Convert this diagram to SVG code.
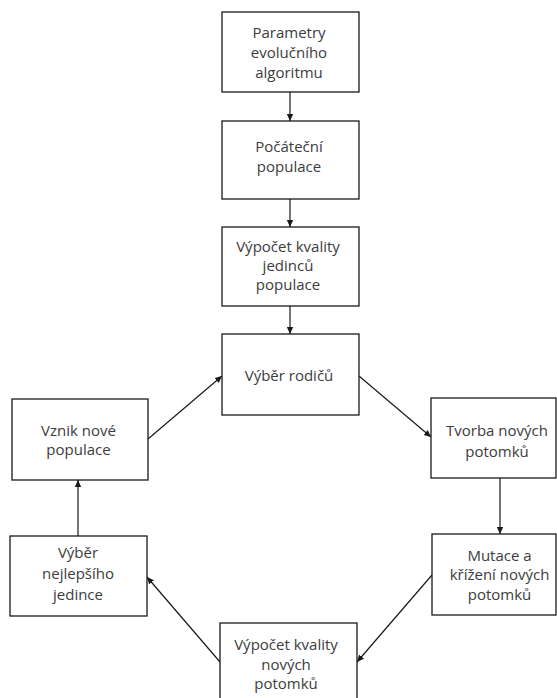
<svg xmlns="http://www.w3.org/2000/svg" width="557" height="698" viewBox="0 0 557 698">
<style>
.box{fill:#fff;stroke:#1a1a1a;stroke-width:1.3}
.t{font-family:"Open Sans","Noto Sans","Liberation Sans",sans-serif;font-size:15px;fill:#3c3c3c;text-anchor:middle}
.c{stroke:#1a1a1a;stroke-width:1.2;fill:none;marker-end:url(#ah)}
</style>
<defs>
<marker id="ah" markerWidth="8" markerHeight="8" refX="7" refY="4" orient="auto" markerUnits="userSpaceOnUse">
<path d="M0,0.8 L7,4 L0,7.2 Z" fill="#1a1a1a"/>
</marker>
</defs>
<rect width="557" height="698" fill="#fff"/>
<g id="connectors">
<line class="c" x1="290" y1="92" x2="290" y2="121"/>
<line class="c" x1="290" y1="199" x2="290" y2="227"/>
<line class="c" x1="290" y1="306" x2="290" y2="334"/>
<line class="c" x1="359" y1="376" x2="431" y2="437"/>
<line class="c" x1="500" y1="478" x2="500" y2="534"/>
<line class="c" x1="432" y1="575" x2="357" y2="662"/>
<line class="c" x1="220" y1="662" x2="147" y2="577"/>
<line class="c" x1="78" y1="536" x2="78" y2="480"/>
<line class="c" x1="148" y1="439" x2="222" y2="376"/>
</g>
<g id="n1"><rect class="box" x="222" y="12" width="137" height="80"/>
<text class="t" x="289" y="38">Parametry</text><text class="t" x="289" y="58">evolučního</text><text class="t" x="289" y="78">algoritmu</text></g>
<g id="n2"><rect class="box" x="222" y="121" width="137" height="78"/>
<text class="t" x="289" y="152">Počáteční</text><text class="t" x="289" y="172">populace</text></g>
<g id="n3"><rect class="box" x="222" y="227" width="137" height="79"/>
<text class="t" x="288" y="252">Výpočet kvality</text><text class="t" x="288" y="271">jedinců</text><text class="t" x="288" y="290">populace</text></g>
<g id="n4"><rect class="box" x="222" y="334" width="137" height="81"/>
<text class="t" x="289" y="381">Výběr rodičů</text></g>
<g id="n5"><rect class="box" x="12" y="399" width="136" height="81"/>
<text class="t" x="78.5" y="436">Vznik nové</text><text class="t" x="78.5" y="455">populace</text></g>
<g id="n6"><rect class="box" x="431" y="398" width="125" height="80"/>
<text class="t" x="497" y="436">Tvorba nových</text><text class="t" x="497" y="457">potomků</text></g>
<g id="n7"><rect class="box" x="432" y="534" width="124" height="81"/>
<text class="t" x="499.5" y="561">Mutace a</text><text class="t" x="499.5" y="580">křížení nových</text><text class="t" x="499.5" y="600">potomků</text></g>
<g id="n8"><rect class="box" x="10" y="536" width="137" height="80"/>
<text class="t" x="78" y="558">Výběr</text><text class="t" x="78" y="579">nejlepšího</text><text class="t" x="78" y="600">jedince</text></g>
<g id="n9"><rect class="box" x="220" y="623" width="137" height="82"/>
<text class="t" x="286" y="650">Výpočet kvality</text><text class="t" x="286" y="670">nových</text><text class="t" x="286" y="689">potomků</text></g>
</svg>
